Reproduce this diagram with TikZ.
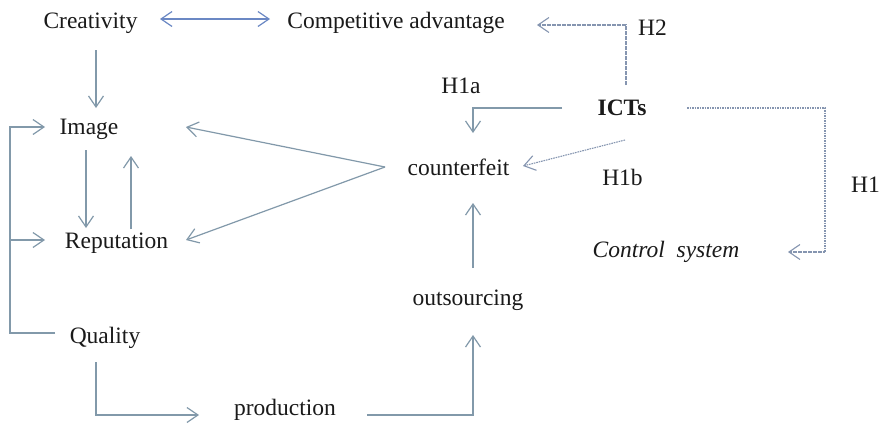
\documentclass[tikz,border=0pt]{standalone}
\usepackage{fontspec}
\setmainfont{Liberation Serif}
\usetikzlibrary{arrows.meta}
\definecolor{linkgray}{HTML}{8299AA}
\definecolor{linkblue}{HTML}{6B88C4}
\definecolor{hypgray}{HTML}{8595B0}
\definecolor{ink}{HTML}{1A1A1A}
\begin{document}
\begin{tikzpicture}[x=1pt,y=-1pt,
  lbl/.style={anchor=base,inner sep=0pt,text=ink,font=\fontsize{23.5}{28}\selectfont},
  tip/.style={-{Straight Barb[length=11pt,width=15pt]}},
  link/.style={draw=linkgray,line width=1.2pt,line join=miter},
  hyp/.style={draw=hypgray,line width=1.1pt,dash pattern=on 1.6pt off 0.9pt},
  hyptip/.style={-{Straight Barb[length=11pt,width=15pt,line width=1.1pt,sep=0pt]}}]
\useasboundingbox[fill=white] (0,0) rectangle (881,426);

% concepts
\node[lbl] (cre)  at (90.5,28)  {Creativity};
\node[lbl] (comp) at (396,28)   {Competitive advantage};
\node[lbl] (img)  at (89,134)   {Image};
\node[lbl] (rep)  at (116.5,248){Reputation};
\node[lbl] (qual) at (105,343)  {Quality};
\node[lbl] (prod) at (285,415)  {production};
\node[lbl] (outs) at (468,305)  {outsourcing};
\node[lbl] (cf)   at (458.5,175){counterfeit};
\node[lbl] (ict)  at (622,115)  {\bfseries ICTs};
\node[lbl] (ctrl) at (666,257)  {\itshape Control\ \ system};

% hypothesis labels
\node[lbl] (h1a) at (461,93)   {H1a};
\node[lbl] (h1b) at (622.5,185){H1b};
\node[lbl] (h2)  at (652.5,35) {H2};
\node[lbl] (h1)  at (865.5,192){H1};

% bend points and entry points
\coordinate (brk)   at (10,333);
\coordinate (h1c)   at (825,252);
\coordinate (repin) at ([shift={(-71.5,-8)}]rep.base);

% creativity and competitive advantage
\draw[link,draw=linkblue,{Straight Barb[length=11pt,width=15pt]}-{Straight Barb[length=11pt,width=15pt]}]
  ([shift={(69.5,-9)}]cre.base) -- ([shift={(-126,-9)}]comp.base);
\draw[link,tip] ([shift={(5.5,22)}]cre.base) -- ([shift={(7,-26)}]img.base);

% quality feeds image and reputation
\draw[link,tip] ([shift={(-50,-10)}]qual.base) -- (brk) |- ([shift={(-44,-7)}]img.base);
\draw[link,tip] (brk |- repin) -- (repin);

% image <-> reputation
\draw[link,tip] ([shift={(-3,16)}]img.base) -- ([shift={(-30.5,-20)}]rep.base);
\draw[link,tip] ([shift={(14.5,-19)}]rep.base) -- ([shift={(42,22)}]img.base);

% counterfeit harms image and reputation
\draw[link,tip] ([shift={(-73.5,-8)}]cf.base) -- ([shift={(97,-7)}]img.base);
\draw[link,tip] ([shift={(-73.5,-8)}]cf.base) -- ([shift={(69.5,-8)}]rep.base);

% ICTs
\draw[link,tip] ([shift={(-60,-7)}]ict.base) -| ([shift={(14.5,-42)}]cf.base);
\draw[hyp,hyptip] ([shift={(3,25)}]ict.base) -- ([shift={(64.5,-9)}]cf.base);
\draw[hyp,hyptip] ([shift={(4,-30)}]ict.base) |- ([shift={(141,-3)}]comp.base);
\draw[hyp,hyptip] ([shift={(65,-7)}]ict.base) -| (h1c) -- ([shift={(122,-5)}]ctrl.base);

% production chain
\draw[link,tip] ([shift={(-9,19)}]qual.base) |- ([shift={(-86,0)}]prod.base);
\draw[link,tip] ([shift={(82,0)}]prod.base) -| ([shift={(5,30)}]outs.base);
\draw[link,tip] ([shift={(5,-37)}]outs.base) -- ([shift={(14.5,28)}]cf.base);
\end{tikzpicture}
\end{document}
